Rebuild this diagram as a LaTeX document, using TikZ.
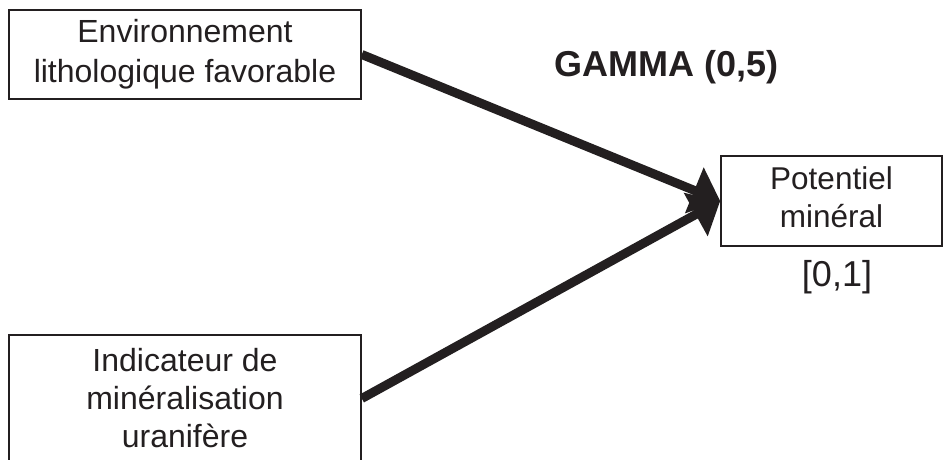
\documentclass[tikz,border=0pt]{standalone}
\usepackage{fontspec}
\setmainfont{Liberation Sans}
\usetikzlibrary{arrows.meta}
\definecolor{ink}{HTML}{231F20}
\begin{document}
\begin{tikzpicture}[x=1pt,y=-1pt,
  box/.style={draw=ink, line width=1.6pt, rectangle, inner sep=0pt, align=center, text=ink,
    font=\fontsize{32}{40}\selectfont},
  conn/.style={draw=ink, line width=9pt, -{Triangle[length=28pt,width=48pt]}},
  lbl/.style={text=ink, inner sep=0pt}]
\useasboundingbox (0,0) rectangle (943,460);
\clip (0,0) rectangle (943,460);
\fill[white] (0,0) rectangle (943,460);
\node[box, minimum width=352pt, minimum height=89pt] (env) at (185,54.5)
  {Environnement\\lithologique favorable};
\node[box, minimum width=352pt, minimum height=127pt, font=\fontsize{32}{38}\selectfont] (ind) at (185,398.5)
  {Indicateur de\\minéralisation\\uranifère};
\node[box, minimum width=221pt, minimum height=90pt, text depth=7pt, font=\fontsize{31.5}{38}\selectfont] (pot) at (831.5,201)
  {Potentiel\\minéral};
\node[lbl, font=\fontsize{36}{36}\selectfont] (range) at (837,277.5) {[0,1]};
\node[lbl, font=\bfseries\fontsize{36}{36}\selectfont] (gamma) at (666.5,67) {GAMMA (0,5)};
\draw[conn] (env.east) -- (pot.west);
\draw[conn] (ind.east) -- (pot.west);
\end{tikzpicture}
\end{document}
